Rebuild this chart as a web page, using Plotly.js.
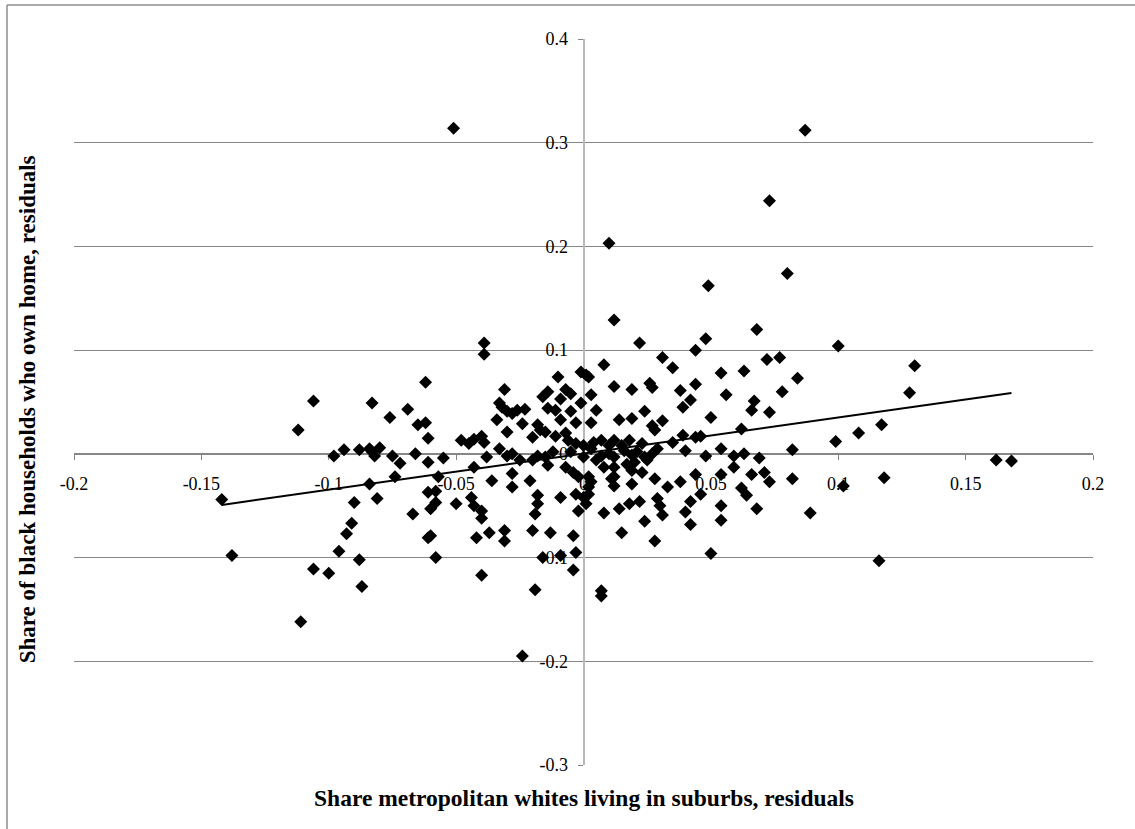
<!DOCTYPE html>
<html>
<head>
<meta charset="utf-8">
<script src="https://cdn.plot.ly/plotly-3.0.1.min.js"></script>
<style>
  html, body { margin: 0; padding: 0; background: #fff; overflow: hidden; }
  #chart { width: 1135px; height: 829px; }
</style>
</head>
<body>
<div id="chart"></div>
<script>
// Share metropolitan whites living in suburbs, residuals (x)
const suburbShareResid = [
  -0.051, 0.087, 0.073, 0.010, 0.080, 0.049, 0.012, 0.068, -0.039, -0.039, 0.022, 0.048,
  0.100, 0.072, 0.077, 0.063, 0.130, 0.084, 0.078, 0.128, 0.067, 0.066, 0.073, 0.062, 0.117, 0.108,
  0.099, 0.082, 0.063, 0.069, 0.162, 0.168, 0.066, 0.071, 0.073, 0.082, 0.118, 0.102, 0.062, 0.064,
  0.068, 0.089, 0.116,
  0.044, 0.008, 0.031, 0.035, 0.054, 0.001, 0.012, 0.019, 0.026, 0.027, 0.038, 0.044, 0.056, 0.042,
  0.039, 0.003, 0.005, 0.024, 0.014, 0.019, 0.003, 0.027, 0.031, 0.028, 0.050, 0.035, 0.039, 0.044,
  0.046, 0.040, 0.048, 0.054, 0.059, 0.059, 0.054, 0.044, 0.046, 0.042, 0.038, 0.033, 0.028, 0.029,
  0.030, 0.031, 0.022, 0.018, 0.014, 0.008, 0.024, 0.015, 0.028, 0.040, 0.042, 0.054, 0.054, 0.050,
  0.023, 0.019, 0.012, 0.012, 0.003, 0.002, 0.001,
  0.000, 0.000, 0.004, 0.007, 0.010, 0.012, 0.015, 0.018, 0.023, 0.007, 0.010, 0.012, 0.016, 0.019,
  0.021, 0.024, 0.027, 0.029, 0.020, 0.025, 0.008, 0.012, 0.017, 0.005, 0.003, 0.019, 0.002, 0.011,
  0.002, 0.000, -0.005, -0.015, -0.012, -0.015, -0.005,
  -0.010, -0.001, 0.002, -0.031, -0.016, -0.014, -0.007, -0.005, -0.009, -0.033, -0.032, -0.030,
  -0.026, -0.023, -0.028, -0.014, -0.011, -0.001, -0.034, -0.024, -0.009, -0.003, -0.030, -0.018,
  -0.017, -0.020, -0.011, -0.007, -0.006, -0.003, -0.048, -0.045, -0.043, -0.040, -0.039, -0.055,
  -0.038, -0.033, -0.030, -0.028, -0.025, -0.020, -0.018, -0.014, -0.007, -0.004, -0.002, -0.043,
  -0.036, -0.028, -0.028, -0.021, -0.050, -0.044, -0.043, -0.040, -0.040, -0.018, -0.018, -0.019,
  -0.009, -0.003, -0.002, -0.042, -0.037, -0.031, -0.031, -0.020, -0.013, -0.004, -0.016, -0.009,
  -0.003,
  -0.138, -0.106, -0.100, -0.096, -0.088, -0.087, -0.111, -0.058, -0.040, -0.019, -0.004, -0.024,
  0.007, 0.007,
  -0.062, -0.106, -0.083, -0.069, -0.076, -0.112, -0.065, -0.062, -0.061, -0.098, -0.094, -0.088,
  -0.084, -0.080, -0.082, -0.083, -0.075, -0.072, -0.066, -0.061, -0.057, -0.074, -0.084, -0.142,
  -0.090, -0.081, -0.061, -0.058, -0.058, -0.060, -0.067, -0.091, -0.093, -0.061, -0.060
];

// Share of black households who own home, residuals (y)
const blackOwnResid = [
  0.314, 0.312, 0.244, 0.203, 0.174, 0.162, 0.129, 0.120, 0.107, 0.096, 0.107, 0.111,
  0.104, 0.091, 0.093, 0.080, 0.085, 0.073, 0.060, 0.059, 0.051, 0.042, 0.040, 0.024, 0.028, 0.020,
  0.012, 0.004, 0.000, -0.004, -0.006, -0.007, -0.020, -0.018, -0.027, -0.024, -0.023, -0.031, -0.033, -0.040,
  -0.053, -0.057, -0.103,
  0.100, 0.086, 0.093, 0.083, 0.078, 0.076, 0.065, 0.062, 0.068, 0.064, 0.061, 0.067, 0.057, 0.052,
  0.045, 0.057, 0.042, 0.041, 0.033, 0.034, 0.030, 0.027, 0.032, 0.023, 0.035, 0.011, 0.018, 0.016,
  0.017, 0.003, -0.002, 0.005, -0.002, -0.013, -0.020, -0.020, -0.039, -0.046, -0.027, -0.032, -0.024, -0.043,
  -0.050, -0.059, -0.046, -0.048, -0.053, -0.057, -0.065, -0.076, -0.084, -0.056, -0.068, -0.050, -0.064, -0.096,
  -0.018, -0.029, -0.022, -0.031, -0.027, -0.039, -0.048,
  0.008, -0.003, 0.011, 0.013, 0.008, 0.013, 0.008, 0.013, 0.010, -0.002, 0.000, -0.003, 0.003, -0.001,
  0.002, -0.003, 0.000, 0.005, -0.008, -0.006, -0.013, -0.013, -0.010, -0.006, 0.005, -0.016, -0.022, -0.024,
  -0.032, -0.042, 0.041, 0.021, 0.002, -0.003, 0.002,
  0.074, 0.079, 0.074, 0.062, 0.055, 0.060, 0.062, 0.058, 0.053, 0.049, 0.045, 0.041,
  0.042, 0.043, 0.039, 0.044, 0.042, 0.049, 0.033, 0.029, 0.033, 0.030, 0.021, 0.028,
  0.023, 0.016, 0.017, 0.020, 0.013, 0.010, 0.013, 0.010, 0.014, 0.017, 0.011, -0.004,
  -0.003, 0.005, -0.002, 0.000, -0.006, -0.006, -0.002, -0.011, -0.013, -0.018, -0.022, -0.013,
  -0.026, -0.019, -0.032, -0.026, -0.048, -0.042, -0.050, -0.055, -0.062, -0.040, -0.048, -0.058,
  -0.042, -0.039, -0.055, -0.081, -0.076, -0.074, -0.084, -0.074, -0.076, -0.079, -0.100, -0.098,
  -0.095,
  -0.098, -0.111, -0.115, -0.094, -0.102, -0.128, -0.162, -0.100, -0.117, -0.131, -0.112, -0.195,
  -0.132, -0.137,
  0.069, 0.051, 0.049, 0.043, 0.035, 0.023, 0.028, 0.030, 0.015, -0.002, 0.004, 0.004,
  0.005, 0.006, -0.002, 0.002, -0.002, -0.009, 0.000, -0.008, -0.022, -0.022, -0.029, -0.044,
  -0.047, -0.043, -0.037, -0.036, -0.047, -0.053, -0.058, -0.067, -0.077, -0.081, -0.079
];

const xTickVals = [-0.2, -0.15, -0.1, -0.05, 0, 0.05, 0.1, 0.15, 0.2];
const xTickText = ["-0.2", "-0.15", "-0.1", "-0.05", "0", "0.05", "0.1", "0.15", "0.2"];
const yTickVals = [-0.3, -0.2, -0.1, 0, 0.1, 0.2, 0.3, 0.4];
const yTickText = ["-0.3", "-0.2", "-0.1", "0", "0.1", "0.2", "0.3", "0.4"];

const xTitle = "Share metropolitan whites living in suburbs, residuals";
const yTitle = "Share of black households who own home, residuals";

// Linear trendline (slope, intercept), spanning the data's x extent
const trendSlope = 0.348;
const trendIntercept = 0.0002;

const n = Math.min(suburbShareResid.length, blackOwnResid.length);
const xs = suburbShareResid.slice(0, n);
const ys = blackOwnResid.slice(0, n);
const xMin = Math.min(...xs), xMax = Math.max(...xs);
const trendX = [xMin, xMax];
const trendY = trendX.map(v => trendIntercept + trendSlope * v);

const serif = 'Liberation Serif, Times New Roman, Times, serif';

const traces = [
  {
    type: 'scatter', mode: 'lines',
    x: trendX, y: trendY,
    line: { color: '#000', width: 2 },
    hoverinfo: 'skip'
  },
  {
    type: 'scatter', mode: 'markers',
    x: xs, y: ys,
    marker: { symbol: 'diamond', size: 10, color: '#000', line: { width: 0 } }
  }
];

const plotL = 74, plotR = 1093, plotT = 39, plotB = 765;
const pw = plotR - plotL, ph = plotB - plotT;
const px = p => (p - plotL) / pw;
const py = p => (plotB - p) / ph;

const layout = {
  width: 1135, height: 829,
  margin: { l: plotL, r: 1135 - plotR, t: plotT, b: 829 - plotB, pad: 0 },
  paper_bgcolor: '#fff', plot_bgcolor: '#fff',
  showlegend: false,
  font: { family: serif, size: 18, color: '#000' },
  xaxis: {
    range: [-0.2, 0.2], tickmode: 'array', tickvals: xTickVals, ticktext: xTickText,
    anchor: 'free', position: 0.3 / 0.7,
    showgrid: false, zeroline: false,
    showline: true, linecolor: '#868686', linewidth: 1,
    ticks: 'outside', ticklen: 5, tickcolor: '#868686', tickwidth: 1,
    ticklabelstandoff: 9,
    tickfont: { family: serif, size: 18, color: '#000' },
    layer: 'below traces', fixedrange: true
  },
  yaxis: {
    range: [-0.3, 0.4], tickmode: 'array', tickvals: yTickVals, ticktext: yTickText,
    anchor: 'free', position: 0.5,
    showgrid: true, gridcolor: '#868686', gridwidth: 1, zeroline: false,
    showline: true, linecolor: '#b8b8b8', linewidth: 2,
    ticks: 'outside', ticklen: 5, tickcolor: '#868686', tickwidth: 1,
    ticklabelstandoff: 6,
    tickfont: { family: serif, size: 18, color: '#000' },
    layer: 'below traces', fixedrange: true
  },
  annotations: [
    {
      xref: 'paper', yref: 'paper', x: 0.5, y: py(798),
      xanchor: 'center', yanchor: 'middle', showarrow: false,
      text: '<b>' + xTitle + '</b>',
      font: { family: serif, size: 23.5, color: '#000' }
    },
    {
      xref: 'paper', yref: 'paper', x: px(27), y: 0.49,
      xanchor: 'center', yanchor: 'middle', showarrow: false, textangle: -90,
      text: '<b>' + yTitle + '</b>',
      font: { family: serif, size: 23, color: '#000' }
    }
  ],
  shapes: [
    { type: 'line', xref: 'paper', yref: 'paper', x0: px(7), x1: px(7), y0: py(840), y1: py(5),
      line: { color: '#8c8c8c', width: 1.5 } },
    { type: 'line', xref: 'paper', yref: 'paper', x0: px(7), x1: px(1150), y0: py(5), y1: py(5),
      line: { color: '#8c8c8c', width: 1.5 } }
  ]
};

Plotly.newPlot('chart', traces, layout, { displayModeBar: false, staticPlot: true });
</script>
</body>
</html>
